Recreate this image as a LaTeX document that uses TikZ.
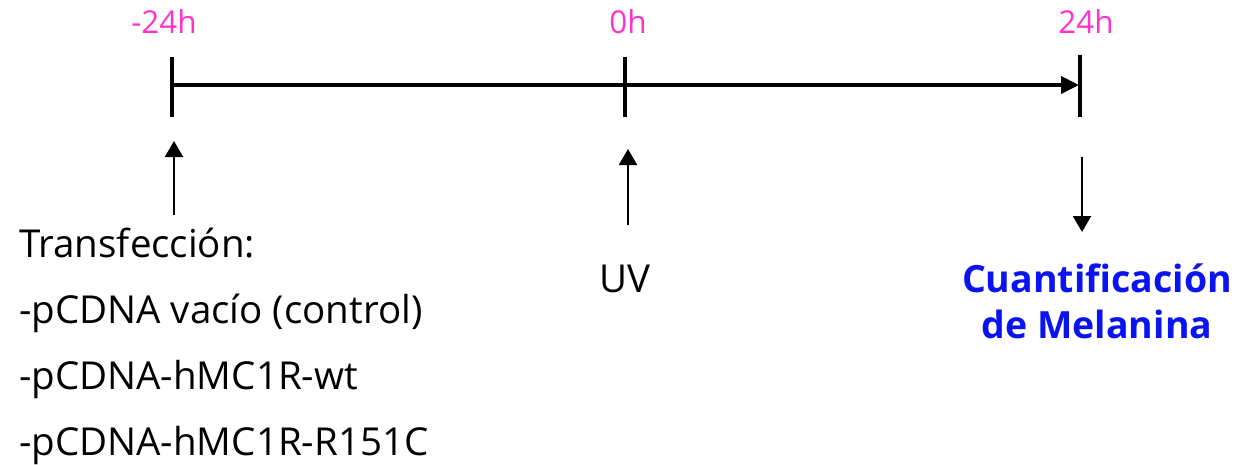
\documentclass[tikz,border=0pt]{standalone}
\usepackage{fontspec}
\setmainfont{Open Sans}
\usetikzlibrary{arrows.meta}
\definecolor{hourpink}{HTML}{FF33CC}
\definecolor{resultblue}{HTML}{0A14F0}
\tikzset{
  tick/.style={line width=4pt},
  axis/.style={line width=4pt,-{Triangle[length=18pt,width=17pt]}},
  pointer/.style={line width=2.2pt,-{Triangle[length=16pt,width=18pt]}},
  hour/.style={text=hourpink,font=\fontsize{31.5}{36}\selectfont,anchor=base,inner sep=0pt},
  label/.style={font=\fontsize{38.5}{42}\selectfont,anchor=base west,inner sep=0pt},
  result/.style={text=resultblue,font=\bfseries\fontsize{37.5}{46}\selectfont,align=center,inner sep=0pt}
}
\begin{document}
\begin{tikzpicture}[x=1pt,y=-1pt]
  \useasboundingbox (0,0) rectangle (1236,464);
  % time axis
  \coordinate (t0) at (172,85);
  \coordinate (t1) at (625,85);
  \coordinate (t2) at (1080,85);
  \draw[tick] (172,57) -- (172,117);
  \draw[tick] (625,57) -- (625,117);
  \draw[tick] (1080,55) -- (1080,117);
  \draw[axis] ([xshift=2pt]t0) -- ([xshift=-1pt]t2);
  % hour labels
  \node[hour] (h0) at (164,33) {-24h};
  \node[hour] (h1) at (628,33) {0h};
  \node[hour] (h2) at (1086,33) {24h};
  % events
  \coordinate (a0s) at (174,215);
  \coordinate (a0e) at (174,141);
  \draw[pointer] (a0s) -- (a0e);
  \coordinate (a1s) at (628,225);
  \coordinate (a1e) at (628,149);
  \draw[pointer] (a1s) -- (a1e);
  \coordinate (a2s) at (1082,157);
  \coordinate (a2e) at (1082,232);
  \draw[pointer] (a2s) -- (a2e);
  % transfection list
  \node[label] (tr) at (19,257) {Transfección:};
  \node[label] (p1) at (19,323) {-pCDNA vacío (control)};
  \node[label] (p2) at (19,389) {-pCDNA-hMC1R-wt};
  \node[label] (p3) at (19,455) {-pCDNA-hMC1R-R151C};
  \node[label,anchor=base] (uv) at (625,292) {UV};
  \node[result,anchor=base] (q) at (1097,338) {Cuantificación\\de Melanina};
\end{tikzpicture}
\end{document}
